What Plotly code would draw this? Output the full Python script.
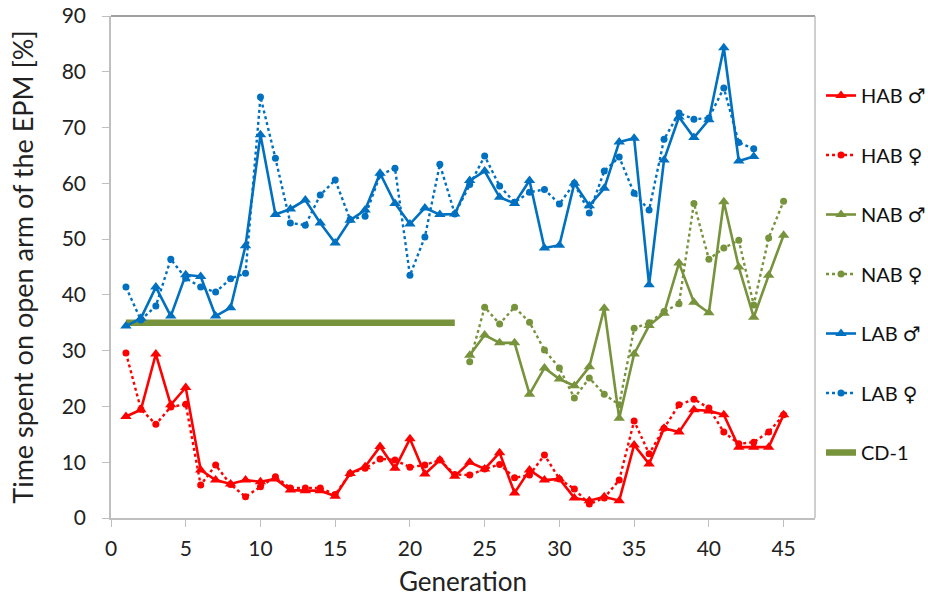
import plotly.graph_objects as go

# Generation numbers
gen_all = list(range(1, 46))
gen_lab = list(range(1, 44))
gen_nab = list(range(24, 46))

# Time spent on the open arm of the EPM [%]
hab_m = [18.2, 19.4, 29.4, 20.3, 23.4, 8.6, 6.8, 6.1, 6.8, 6.5,
         7.0, 5.0, 4.9, 4.9, 3.9, 8.0, 9.2, 12.8, 8.9, 14.2,
         7.9, 10.4, 7.5, 10.0, 8.8, 11.7, 4.5, 8.6, 6.8, 7.0,
         3.6, 3.1, 3.8, 3.1, 13.1, 9.7, 16.1, 15.4, 19.4, 19.2,
         18.5, 12.7, 12.7, 12.7, 18.5]
hab_f = [29.6, 19.5, 16.8, 19.9, 20.4, 5.9, 9.5, 6.0, 3.8, 5.6,
         7.4, 5.4, 5.4, 5.4, 4.2, 8.0, 8.9, 10.6, 10.4, 9.1,
         9.5, 10.4, 7.8, 7.7, 8.8, 9.6, 7.2, 7.7, 11.3, 7.0,
         5.2, 2.5, 3.6, 6.8, 17.4, 11.5, 16.1, 20.3, 21.3, 19.7,
         15.4, 13.3, 13.6, 15.4, 18.5]

nab_m = [29.2, 32.8, 31.4, 31.4, 22.2, 26.9, 24.9, 23.7, 27.1, 37.6,
         17.9, 29.4, 34.5, 36.7, 45.7, 38.7, 36.8, 56.7, 45.0, 36.0,
         43.5, 50.7]
nab_f = [28.0, 37.8, 34.8, 37.8, 35.1, 30.1, 26.9, 21.5, 25.1, 22.2,
         20.3, 34.0, 35.0, 37.0, 38.4, 56.4, 46.4, 48.4, 49.8, 38.2,
         50.2, 56.8]

lab_m = [34.4, 35.8, 41.4, 36.2, 43.6, 43.3, 36.2, 37.7, 48.8, 68.7,
         54.4, 55.4, 57.0, 52.9, 49.3, 53.4, 55.2, 61.8, 56.4, 52.7,
         55.6, 54.4, 54.5, 60.5, 62.2, 57.5, 56.4, 60.5, 48.4, 48.9,
         60.0, 56.0, 59.1, 67.4, 68.1, 41.8, 64.2, 71.9, 68.2, 71.4,
         84.3, 64.0, 64.8]
lab_f = [41.4, 35.5, 38.0, 46.4, 43.0, 41.4, 40.5, 42.9, 43.9, 75.5,
         64.5, 52.9, 52.5, 57.9, 60.6, 53.5, 54.1, 61.5, 62.7, 43.5,
         50.4, 63.4, 54.5, 59.8, 64.9, 59.5, 56.6, 58.4, 58.9, 56.3,
         60.0, 54.7, 62.2, 64.7, 58.2, 55.2, 67.9, 72.6, 71.5, 71.7,
         77.1, 67.3, 66.2]

# Outbred CD-1 reference level
cd1_gen = [1, 23]
cd1_val = [35, 35]

RED = "#FF0000"
GREEN = "#77933C"
BLUE = "#0070C0"
FONT = "Lato"
LEGEND_FONT = "Lato, 'DejaVu Sans'"
TEXT = "#222222"

fig = go.Figure()


def male(x, y, color, name, group):
    fig.add_trace(go.Scatter(
        x=x, y=y, name=name, legendgroup=group, mode="lines+markers",
        line=dict(color=color, width=2.6),
        marker=dict(symbol="triangle-up", size=10, color=color),
    ))


def female(x, y, color, name, group):
    fig.add_trace(go.Scatter(
        x=x, y=y, name=name, legendgroup=group, mode="lines+markers",
        line=dict(color=color, width=2.4, dash="dot"),
        marker=dict(symbol="circle", size=7, color=color),
    ))


# CD-1 bar drawn first so the lines sit above it
fig.add_trace(go.Scatter(
    x=cd1_gen, y=cd1_val, name="CD-1", legendgroup="g7", mode="lines",
    line=dict(color=GREEN, width=6.5), showlegend=False,
))

male(gen_all, hab_m, RED, "HAB \u2642", "g1")
female(gen_all, hab_f, RED, "HAB \u2640", "g2")
male(gen_nab, nab_m, GREEN, "NAB \u2642", "g3")
female(gen_nab, nab_f, GREEN, "NAB \u2640", "g4")
male(gen_lab, lab_m, BLUE, "LAB \u2642", "g5")
female(gen_lab, lab_f, BLUE, "LAB \u2640", "g6")

# legend-only entry for CD-1 (keeps it last in the legend)
fig.add_trace(go.Scatter(
    x=[None], y=[None], name="CD-1", legendgroup="g7", mode="lines",
    line=dict(color=GREEN, width=6.5),
))

axis_common = dict(
    showgrid=False, zeroline=False, showline=True, linecolor="#BFBFBF",
    linewidth=1.5, ticks="outside", ticklen=7, tickcolor="#BFBFBF",
    tickfont=dict(family=FONT, size=21, color=TEXT), automargin=False,
)

fig.update_layout(
    width=928, height=597,
    margin=dict(l=111, r=113, t=16, b=79, autoexpand=False),
    paper_bgcolor="white", plot_bgcolor="white",
    font=dict(family=FONT, color=TEXT),
    xaxis=dict(range=[0, 47.1], tick0=0, dtick=5, ticklabelstandoff=4,
               title=dict(text="Generation", font=dict(family=FONT, size=26, color=TEXT),
                          standoff=15),
               **axis_common),
    yaxis=dict(range=[0, 90], tick0=0, dtick=10, ticklabelstandoff=12,
               title=dict(text="Time spent on open arm of the EPM [%]",
                          font=dict(family=FONT, size=27, color=TEXT), standoff=20),
               **axis_common),
    legend=dict(xref="paper", yref="paper", x=1.0 + 6 / 704, y=1 - 60 / 502,
                xanchor="left", yanchor="top", maxheight=560,
                font=dict(family=LEGEND_FONT, size=20, color="#111111"),
                tracegroupgap=30.5, bgcolor="rgba(0,0,0,0)"),
    shapes=[
        dict(type="line", xref="paper", yref="paper", x0=0, x1=1, y0=1, y1=1,
             line=dict(color="#7F7F7F", width=1.5)),
        dict(type="line", xref="paper", yref="paper", x0=1, x1=1, y0=0, y1=1,
             line=dict(color="#BFBFBF", width=1.5)),
    ],
)

fig.write_html("out.html")
